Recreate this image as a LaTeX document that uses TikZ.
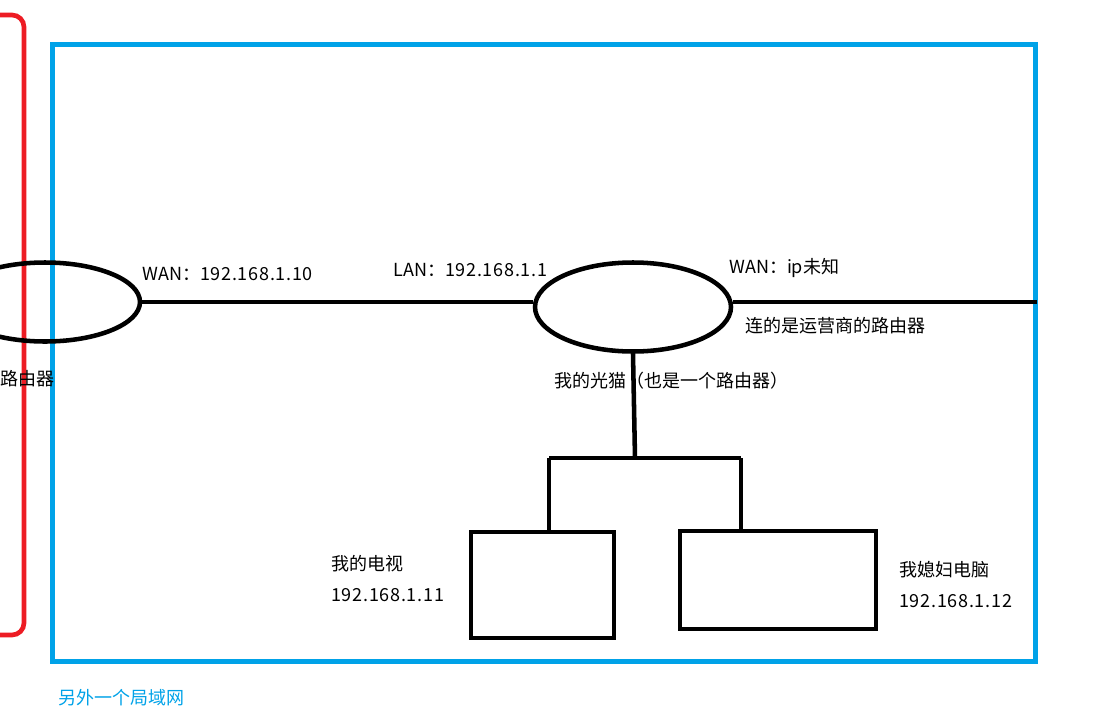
\documentclass[tikz,border=0pt]{standalone}
\usepackage{fontspec}
\setmainfont{Noto Sans CJK SC}
\newfontfamily\ipfont{Noto Sans CJK SC}[LetterSpace=4]
\usetikzlibrary{positioning, shapes.geometric}
\definecolor{lanblue}{HTML}{00A2E8}
\definecolor{boxred}{HTML}{ED1C24}

\begin{document}
\begin{tikzpicture}[x=0.75pt, y=-0.75pt,
    dev/.style={draw, ellipse, line width=3.4pt, inner sep=0pt},
    pcbox/.style={draw, rectangle, line width=3.6pt, inner sep=0pt},
    wire/.style={line width=3.4pt},
    lbl/.style={anchor=west, inner sep=0pt, font=\fontsize{13.5}{16}\selectfont}]
    \useasboundingbox (0,0) rectangle (1114,722);
    \clip (0,0) rectangle (1114,722);

    % the two networks
    \draw[boxred, line width=3.5pt, rounded corners=9pt] (-200,15) rectangle (24,635);
    \draw[lanblue, line width=3.75pt] (52,44) rectangle (1035,661);
    \node[lbl, text=lanblue] (lanname) at (58,698) {另外一个局域网};

    % routers
    \node[dev, minimum width=142.5pt, minimum height=59.25pt] (router) at (45,302) {};
    \node[dev, minimum width=147pt, minimum height=66.75pt] (modem) at (633,307) {};
    \coordinate (isp) at (1037,302);
    \draw[wire] (router.east) -- (router.east -| modem.west);
    \draw[wire] (modem.east |- isp) -- (isp);

    \node[lbl] (routername) at (0,379) {路由器};
    \node[lbl] (routerwan) at (142,274) {WAN：{\ipfont 192.168.1.10}};
    \node[lbl] (modemlan) at (393,270) {LAN：{\ipfont 192.168.1.1}};
    \node[lbl] (modemwan) at (729,268) {WAN：ip未知};
    \node[lbl] (ispname) at (745,326) {连的是运营商的路由器};
    \node[lbl] (modemname) at (554,381) {我的光猫（也是一个路由器）};

    % devices
    \node[pcbox, minimum width=107.25pt, minimum height=79.5pt] (tv) at (542.5,585) {};
    \node[pcbox, minimum width=147pt, minimum height=73.5pt] (pc) at (778,580) {};
    \coordinate (hub) at (635,458);
    \coordinate (hl) at (549,458);
    \coordinate (hr) at (741,458);
    \draw[wire] (modem.south) -- (hub);
    \draw[wire] (hl) -- (hr);
    \draw[wire] (hl) -- (hl |- tv.north);
    \draw[wire] (hr) -- (hr |- pc.north);

    \node[lbl] (tvname) at (331,564) {我的电视};
    \node[lbl, below=23.25pt of tvname.west, anchor=west] (tvip) {\ipfont 192.168.1.11};
    \node[lbl] (pcname) at (899,570) {我媳妇电脑};
    \node[lbl, below=23.25pt of pcname.west, anchor=west] (pcip) {\ipfont 192.168.1.12};
\end{tikzpicture}
\end{document}
